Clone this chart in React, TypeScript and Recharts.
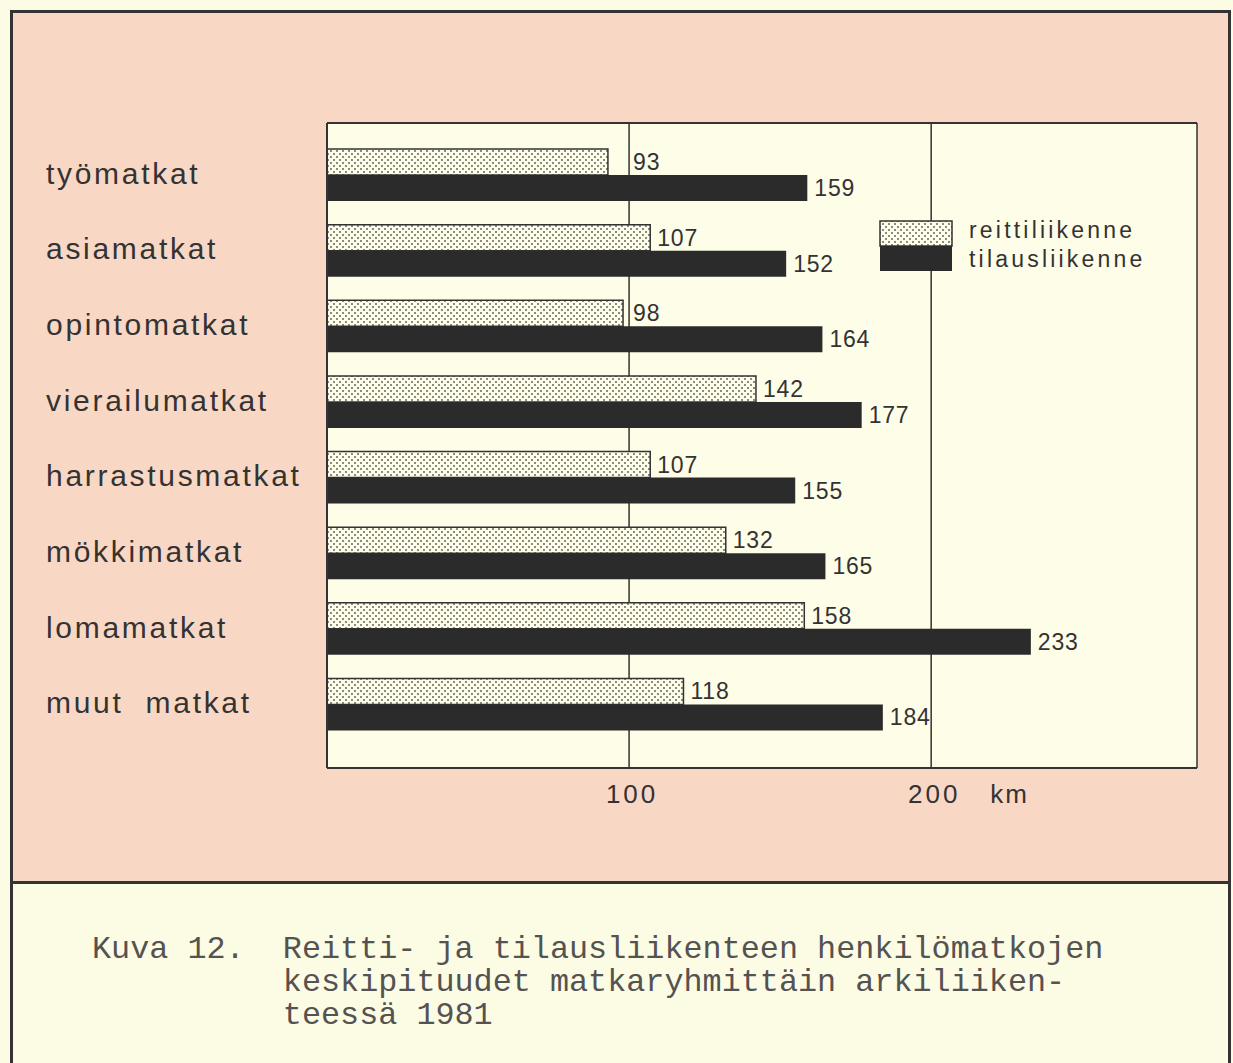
import React from "react";
import { BarChart, Bar, XAxis, YAxis, CartesianGrid, Legend, LabelList } from "recharts";

const categories = [
  "työmatkat",
  "asiamatkat",
  "opintomatkat",
  "vierailumatkat",
  "harrastusmatkat",
  "mökkimatkat",
  "lomamatkat",
  "muut  matkat",
];
const reittiliikenne = [93, 107, 98, 142, 107, 132, 158, 118];
const tilausliikenne = [159, 152, 164, 177, 155, 165, 233, 184];
const xTicks = [100, 200];
const xUnit = "km";
const seriesNames = ["reittiliikenne", "tilausliikenne"];
const captionLabel = "Kuva 12.";
const captionLines = [
  "Reitti- ja tilausliikenteen henkilömatkojen",
  "keskipituudet matkaryhmittäin arkiliiken-",
  "teessä 1981",
];

const data = categories.map((name, i) => ({
  name,
  reitti: reittiliikenne[i],
  tilaus: tilausliikenne[i],
}));

const INK = "#343232";
const DARK = "#2c2b2b";
const PINK = "#f8d8c5";
const CREAM = "#fcfbe4";
const PLOT = "#fdfde8";
const SANS = "'Liberation Sans', Arial, Helvetica, sans-serif";

const CategoryTick = (props: any) => {
  const { y, payload } = props;
  return (
    <text
      x={46}
      y={y}
      dy={9}
      fill={INK}
      fontFamily={SANS}
      fontSize={30}
      letterSpacing={2.7}
      style={{ whiteSpace: "pre" }}
    >
      {payload.value}
    </text>
  );
};

const KmTick = (props: any) => {
  const { x, y, payload } = props;
  const last = payload.value === xTicks[xTicks.length - 1];
  return (
    <g>
      <text x={x + 3} y={y} dy={27} textAnchor="middle" fill={INK} fontFamily={SANS} fontSize={26} letterSpacing={3}>
        {payload.value}
      </text>
      {last && (
        <text x={x + 59} y={y} dy={27} fill={INK} fontFamily={SANS} fontSize={26} letterSpacing={2}>
          {xUnit}
        </text>
      )}
    </g>
  );
};

// value label; when a short bar ends just before a grid line, the label is set just past the line
const makeValueLabel = () => (props: any) => {
  const { x, y, width, height, value } = props;
  const perUnit = width / value;
  let lx = x + width + 7;
  for (const t of xTicks) {
    const tx = x + t * perUnit;
    if (x + width < tx && lx < tx + 4 && lx + 20 > tx) lx = tx + 4;
  }
  return (
    <text
      x={lx}
      y={y + height / 2}
      dy={8}
      fill={INK}
      fontFamily={SANS}
      fontSize={23}
      letterSpacing={0.8}
    >
      {value}
    </text>
  );
};

const LegendBox = () => (
  <div style={{ display: "flex", alignItems: "flex-start", fontFamily: SANS, color: INK }}>
    <svg width={74} height={52} style={{ display: "block" }}>
      <defs>
        <pattern id="dotsLegend" width="6" height="6" patternUnits="userSpaceOnUse">
          <rect width="6" height="6" fill={PLOT} />
          <circle cx="1" cy="1" r="0.9" fill="#555" />
          <circle cx="4" cy="4" r="0.9" fill="#555" />
        </pattern>
      </defs>
      <rect x={1} y={1} width={72} height={25} fill="url(#dotsLegend)" stroke={INK} strokeWidth={1.5} />
      <rect x={1} y={26} width={72} height={25} fill={DARK} />
    </svg>
    <div style={{ marginLeft: 16, marginTop: -4, fontSize: 23, letterSpacing: 3.2, lineHeight: "29px" }}>
      {seriesNames.map((s) => (
        <div key={s}>{s}</div>
      ))}
    </div>
  </div>
);

export default function App() {
  return (
    <div style={{ position: "absolute", left: 0, top: 0, width: 1233, height: 1063, background: CREAM, overflow: "hidden" }}>
      <div
        style={{
          position: "absolute",
          left: 10,
          top: 10,
          width: 1221,
          height: 874,
          boxSizing: "border-box",
          border: `3px solid ${INK}`,
          background: PINK,
        }}
      />
      <div
        style={{
          position: "absolute",
          left: 10,
          top: 881,
          width: 1221,
          height: 200,
          boxSizing: "border-box",
          border: `3px solid ${INK}`,
          background: CREAM,
        }}
      />
      <div
        style={{
          position: "absolute",
          left: 92,
          top: 934,
          fontFamily: "'Courier New', 'Liberation Mono', monospace",
          fontSize: 31.8,
          lineHeight: "33px",
          color: "#555252",
          whiteSpace: "pre",
        }}
      >
        {captionLines.map((line, i) => (
          <div key={i}>{(i === 0 ? captionLabel : "").padEnd(10, " ") + line}</div>
        ))}
      </div>
      <div style={{ position: "absolute", left: 0, top: 0 }}>
        <BarChart
          width={1233}
          height={1063}
          data={data}
          layout="vertical"
          margin={{ top: 121, right: 36, bottom: 255, left: 27 }}
          barSize={26}
          barGap={0}
        >
          <defs>
            <pattern id="dots" width="6" height="6" patternUnits="userSpaceOnUse">
              <rect width="6" height="6" fill={PLOT} />
              <circle cx="1" cy="1" r="0.9" fill="#555" />
              <circle cx="4" cy="4" r="0.9" fill="#555" />
            </pattern>
          </defs>
          <CartesianGrid horizontal={false} fill={PLOT} fillOpacity={1} stroke={INK} strokeWidth={1.5} />
          <XAxis
            type="number"
            domain={[0, 288]}
            ticks={xTicks}
            height={40}
            axisLine={{ stroke: INK, strokeWidth: 2 }}
            tickLine={false}
            tick={<KmTick />}
          />
          <XAxis
            xAxisId="top"
            orientation="top"
            type="number"
            domain={[0, 288]}
            ticks={xTicks}
            height={2}
            axisLine={{ stroke: INK, strokeWidth: 2 }}
            tickLine={false}
            tick={false}
          />
          <YAxis
            type="category"
            dataKey="name"
            width={300}
            padding={{ top: 14, bottom: 26 }}
            axisLine={{ stroke: INK, strokeWidth: 2 }}
            tickLine={false}
            tick={<CategoryTick />}
            interval={0}
          />
          <YAxis
            yAxisId="right"
            orientation="right"
            type="category"
            dataKey="name"
            width={0}
            axisLine={{ stroke: INK, strokeWidth: 2 }}
            tickLine={false}
            tick={false}
          />
          <Legend
            layout="horizontal"
            verticalAlign="middle"
            align="center"
            content={<LegendBox />}
            wrapperStyle={{ left: 879, top: 220, width: 320 }}
          />
          <Bar dataKey="reitti" name={seriesNames[0]} fill="url(#dots)" stroke={INK} strokeWidth={1.5} isAnimationActive={false}>
            <LabelList dataKey="reitti" content={makeValueLabel()} />
          </Bar>
          <Bar dataKey="tilaus" name={seriesNames[1]} fill={DARK} isAnimationActive={false}>
            <LabelList dataKey="tilaus" content={makeValueLabel()} />
          </Bar>
        </BarChart>
      </div>
    </div>
  );
}
